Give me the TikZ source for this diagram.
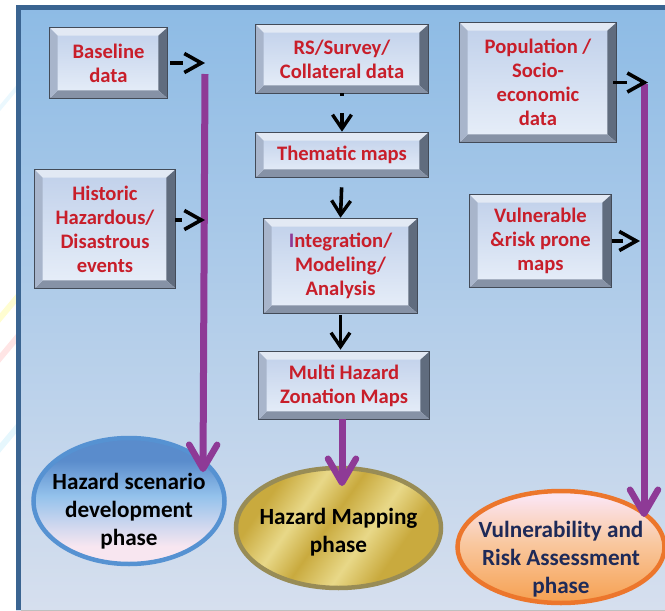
\documentclass[tikz,border=0pt]{standalone}
\usepackage{fontspec}
\setmainfont{Carlito}
\usetikzlibrary{arrows.meta,shapes.geometric}
\usepackage{xcolor}
\definecolor{framebl}{RGB}{58,100,145}
\definecolor{paneltop}{RGB}{141,187,229}
\definecolor{panelbot}{RGB}{214,223,238}
\definecolor{boxred}{RGB}{200,30,42}
\definecolor{arrpurp}{RGB}{142,58,150}
\definecolor{facetop}{RGB}{192,208,234}
\definecolor{facebot}{RGB}{232,239,249}
\definecolor{bevtop}{RGB}{226,233,244}
\definecolor{bevleft}{RGB}{168,181,203}
\definecolor{bevright}{RGB}{96,108,126}
\definecolor{bevbot}{RGB}{134,146,166}
\definecolor{hsdline}{RGB}{86,146,210}
\definecolor{hsdtop}{RGB}{90,140,204}
\definecolor{hsdmid}{RGB}{148,194,236}
\definecolor{hsdbot}{RGB}{248,230,240}
\definecolor{hmpline}{RGB}{152,140,86}
\definecolor{golddk}{RGB}{201,170,62}
\definecolor{goldlt}{RGB}{232,216,136}
\definecolor{vraline}{RGB}{236,118,44}
\definecolor{vratop}{RGB}{251,228,240}
\definecolor{vramid}{RGB}{249,200,160}
\definecolor{vrabot}{RGB}{246,160,80}
\definecolor{navytxt}{RGB}{30,42,88}

\pgfdeclareverticalshading{hsdshade}{100bp}{color(0bp)=(hsdbot); color(32bp)=(hsdbot); color(52bp)=(hsdmid); color(66bp)=(hsdtop); color(100bp)=(hsdtop)}
\pgfdeclareverticalshading{vrashade}{100bp}{color(0bp)=(vrabot); color(25bp)=(vrabot); color(52bp)=(vramid); color(72bp)=(vratop); color(100bp)=(vratop)}
\pgfdeclarehorizontalshading{goldshade}{100bp}{color(0bp)=(golddk); color(28bp)=(golddk); color(38bp)=(goldlt); color(47bp)=(golddk); color(58bp)=(goldlt); color(68bp)=(golddk); color(100bp)=(golddk)}

\begin{document}
\begin{tikzpicture}[x=1pt, y=-1pt,
    bevelbox/.style={draw=bevright!80!black, line width=0.6pt, top color=facetop, bottom color=facebot,
        text=boxred, align=center, inner sep=0pt,
        font=\fontsize{20.6}{24}\selectfont\bfseries},
    phase/.style={ellipse, line width=4.5pt, inner sep=0pt},
    phasetxt/.style={align=center, inner sep=0pt, font=\fontsize{23.2}{28}\selectfont\bfseries},
    flow/.style={arrpurp, line width=7pt, -{Straight Barb[length=24pt, width=28pt, line width=6.5pt, round]}},
    feed/.style={black, line width=3.8pt, -{Straight Barb[length=17pt, width=19pt, line width=3.6pt]}},
    drop/.style={black, line width=3.6pt, -{Straight Barb[length=14pt, width=19pt, line width=3.4pt]}}]

\useasboundingbox (0,0) rectangle (665,611);

% faint slide stripes outside the frame
\begin{scope}
    \clip (0,0) rectangle (16,611);
    \draw[yellow!18, line width=6pt] (-10,330) -- (40,270);
    \draw[red!10, line width=6pt] (-10,370) -- (40,310);
    \draw[cyan!10, line width=6pt] (-10,460) -- (40,400);
    \draw[cyan!8, line width=4pt] (-10,120) -- (40,60);
\end{scope}

% panel and frame
\shade[top color=paneltop, bottom color=panelbot] (16,5) rectangle (665,610);
\fill[framebl] (16,5) rectangle (665,9.5);
\fill[framebl] (16,5) rectangle (21,610);
\draw[gray!50, line width=1pt] (21,610) -- (665,610);

% input boxes
\node[bevelbox, minimum width=117pt, minimum height=70pt] (base) at (108.5,63) {Baseline\\data};
\node[bevelbox, minimum width=140pt, minimum height=118pt] (hist) at (105,229) {Historic\\Hazardous/\\Disastrous\\events};
\node[bevelbox, minimum width=172pt, minimum height=68pt] (rs) at (342,59) {RS/Survey/\\Collateral data};
\node[bevelbox, minimum width=172pt, minimum height=44pt] (thm) at (342,155) {Thematic maps};
\node[bevelbox, minimum width=153pt, minimum height=94pt] (integ) at (340.5,266) {{\color{arrpurp}I}ntegration/\\Modeling/\\Analysis};
\node[bevelbox, minimum width=170pt, minimum height=67pt] (mhz) at (344,385.5) {Multi Hazard\\Zonation Maps};
\node[bevelbox, minimum width=156pt, minimum height=119pt] (pop) at (538,82.5) {Population /\\Socio-\\economic\\data};
\node[bevelbox, minimum width=141pt, minimum height=92pt] (vuln) at (540.5,241) {Vulnerable\\\&risk prone\\maps};

% bevel edges
\foreach \n in {base,hist,rs,thm,integ,mhz,pop,vuln} {
    \fill[bevtop] (\n.north west) -- (\n.north east) -- ([shift={(-8,8)}]\n.north east) -- ([shift={(8,8)}]\n.north west) -- cycle;
    \fill[bevright] (\n.north east) -- (\n.south east) -- ([shift={(-9,-8)}]\n.south east) -- ([shift={(-9,8)}]\n.north east) -- cycle;
    \fill[bevbot] (\n.south east) -- (\n.south west) -- ([shift={(8,-8)}]\n.south west) -- ([shift={(-9,-8)}]\n.south east) -- cycle;
    \fill[bevleft] (\n.south west) -- (\n.north west) -- ([shift={(8,8)}]\n.north west) -- ([shift={(8,-8)}]\n.south west) -- cycle;
    \draw[bevright!70!black, line width=0.6pt] (\n.north west) rectangle (\n.south east);
}

% phase ellipses
\node[phase, draw=hsdline, shading=hsdshade, minimum width=191pt, minimum height=126pt,
    label={[phasetxt, yshift=-10pt]center:{Hazard scenario\\development\\phase}}] (hsd) at (129,501) {};
\node[phase, draw=hmpline, shading=goldshade, shading angle=-35, minimum width=205pt, minimum height=120pt,
    label={[phasetxt, yshift=-4pt]center:{Hazard Mapping\\phase}}] (hmp) at (338.5,528) {};
\node[phase, draw=vraline, shading=vrashade, minimum width=207pt, minimum height=112pt,
    label={[phasetxt, text=navytxt, yshift=-12pt]center:{Vulnerability and\\Risk Assessment\\phase}}] (vra) at (561,547) {};

% purple trunks
\coordinate (ltop) at (205,74);
\coordinate (ltip) at (203,472);
\coordinate (mtip) at (342,486);
\coordinate (rtop) at (644,84);
\coordinate (rtip) at (644,517);
\draw[flow] (ltop) -- (ltip);
\draw[flow] (mhz.south -| mtip) -- (mtip);
\draw[flow] (rtop) -- (rtip);

% feeders into the trunks
\draw[feed, dash pattern=on 13pt off 40pt] ([xshift=3pt]base.east) -- (ltop |- base.east);
\draw[feed, dash pattern=on 7pt off 40pt] ([yshift=9pt]hist.east) -- ([yshift=9pt]ltop |- hist.east);
\draw[feed, dash pattern=on 14pt off 40pt] ([shift={(-3,0)}]pop.east) -- ([xshift=4pt]rtop |- pop.east);
\draw[feed, dash pattern=on 11pt off 40pt] ([xshift=1pt]vuln.east) -- ([xshift=-4pt]rtop |- vuln.east);

% arrows down the middle column
\draw[drop, dash pattern=on 3pt off 17pt on 40pt] (rs.south) -- ([yshift=1pt]thm.north);
\draw[drop, shorten <=10pt] (thm.south) -- ([yshift=1pt]integ.north);
\draw[drop, shorten <=2pt] (integ.south) -- ([yshift=2pt]integ.south |- mhz.north);

\end{tikzpicture}
\end{document}
